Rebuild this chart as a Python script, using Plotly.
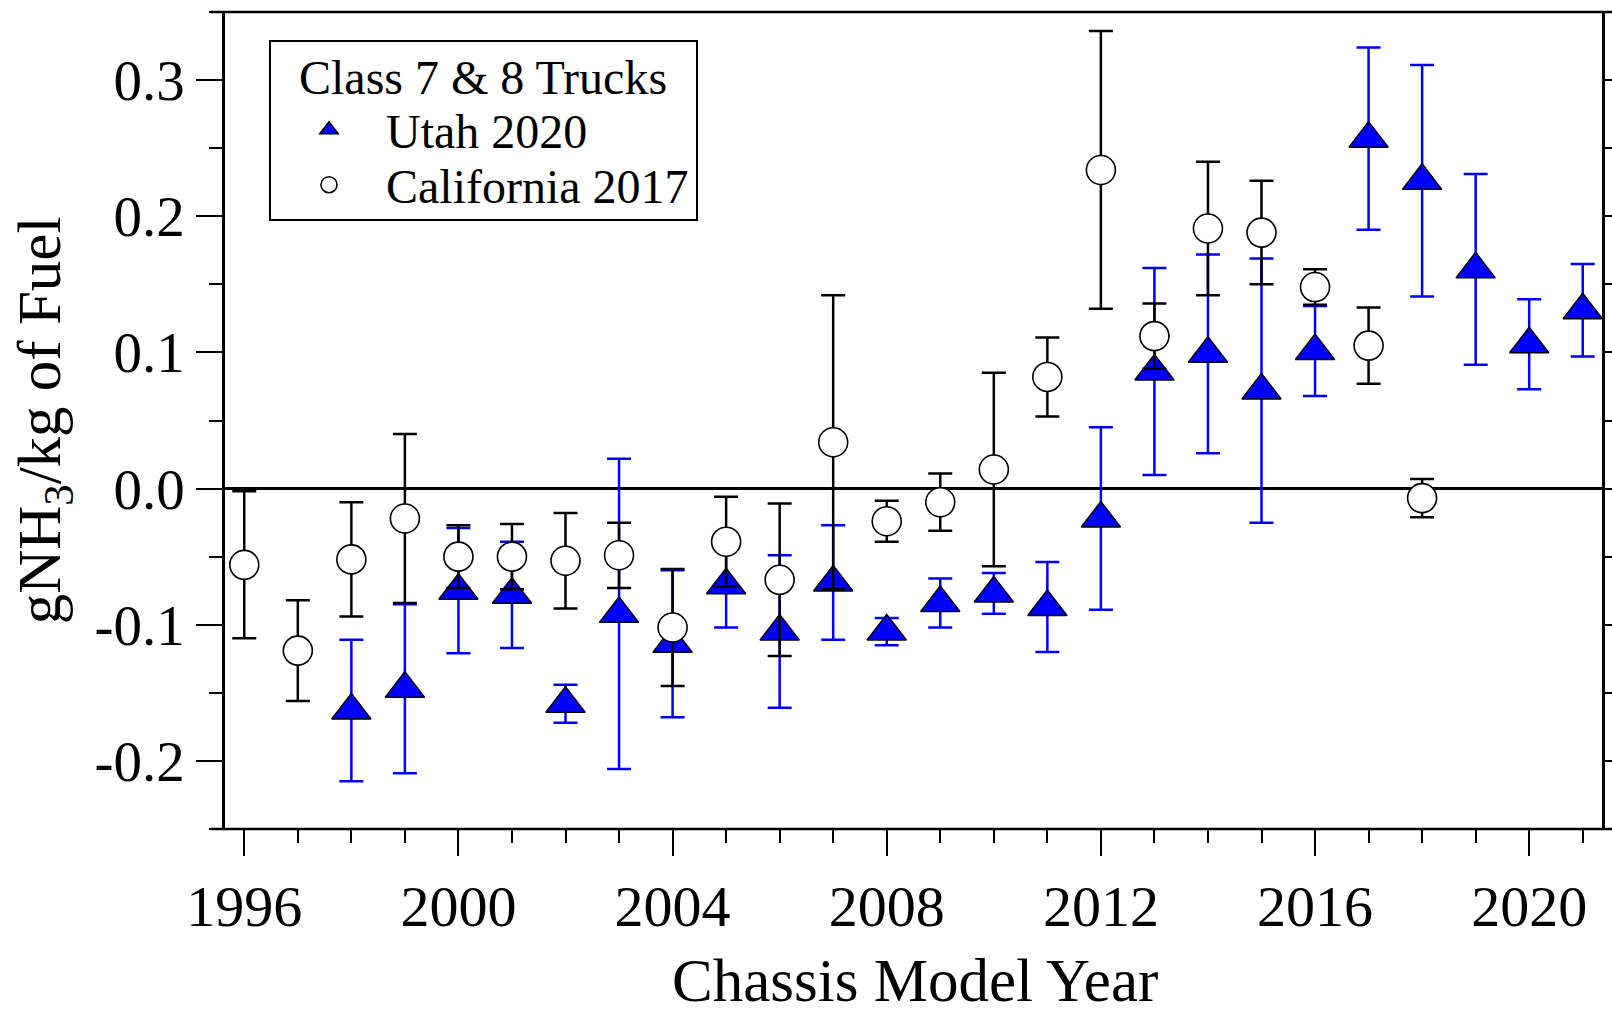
import plotly.graph_objects as go

# ---------------- data ----------------
utah_years = [1998, 1999, 2000, 2001, 2002, 2003, 2004, 2005, 2006, 2007, 2008, 2009,
              2010, 2011, 2012, 2013, 2014, 2015, 2016, 2017, 2018, 2019, 2020, 2021]
utah_vals = [-0.163, -0.147, -0.075, -0.078, -0.158, -0.092, -0.114, -0.071, -0.105, -0.069,
             -0.105, -0.084, -0.077, -0.087, -0.022, 0.086, 0.099, 0.072, 0.101, 0.257,
             0.226, 0.161, 0.106, 0.131]
utah_err = [0.052, 0.062, 0.046, 0.039, 0.014, 0.114, 0.054, 0.031, 0.056, 0.042,
            0.010, 0.018, 0.015, 0.033, 0.067, 0.076, 0.073, 0.097, 0.033, 0.067,
            0.085, 0.070, 0.033, 0.034]

ca_years = [1996, 1997, 1998, 1999, 2000, 2001, 2002, 2003, 2004, 2005, 2006, 2007,
            2008, 2009, 2010, 2011, 2012, 2013, 2014, 2015, 2016, 2017, 2018]
ca_vals = [-0.056, -0.119, -0.052, -0.022, -0.050, -0.050, -0.053, -0.049, -0.102, -0.039,
           -0.067, 0.034, -0.024, -0.010, 0.014, 0.082, 0.234, 0.112, 0.191, 0.188,
           0.148, 0.105, -0.007]
ca_err = [0.054, 0.037, 0.042, 0.062, 0.023, 0.024, 0.035, 0.024, 0.043, 0.033,
          0.056, 0.108, 0.015, 0.021, 0.071, 0.029, 0.102, 0.024, 0.049, 0.038,
          0.013, 0.028, 0.014]

x_tickvals = [1996, 2000, 2004, 2008, 2012, 2016, 2020]
x_ticktext = ["1996", "2000", "2004", "2008", "2012", "2016", "2020"]
y_tickvals = [-0.2, -0.1, 0.0, 0.1, 0.2, 0.3]
y_ticktext = ["-0.2", "-0.1", "0.0", "0.1", "0.2", "0.3"]
legend_title = "Class 7 & 8 Trucks"
x_title = "Chassis Model Year"
y_title = "gNH<sub>3</sub>/kg of Fuel"

FONT = "Liberation Serif, Times New Roman, serif"
BLUE = "#0000FF"

fig = go.Figure()

fig.add_trace(go.Scatter(
    x=utah_years, y=utah_vals, mode="markers", name="Utah 2020", legend="legend",
    marker=dict(symbol="triangle-up", size=34, color=BLUE,
                line=dict(color="black", width=1.5)),
    error_y=dict(type="data", array=utah_err, symmetric=True,
                 color=BLUE, thickness=2.5, width=12),
))
fig.add_trace(go.Scatter(
    x=ca_years, y=ca_vals, mode="markers", name="California 2017", legend="legend2",
    marker=dict(symbol="circle", size=29, color="white",
                line=dict(color="black", width=1.6)),
    error_y=dict(type="data", array=ca_err, symmetric=True,
                 color="black", thickness=2.5, width=12),
))

W, H = 1612, 1018
ML, MR, MT, MB = 225, 10, 12, 189
pw = W - ML - MR
ph = H - MT - MB


def px(xp):
    return (xp - ML) / pw


def py(yp):
    return (H - MB - yp) / ph


legend_common = dict(
    xanchor="left", yanchor="middle",
    bordercolor="black", borderwidth=0, bgcolor="rgba(0,0,0,0)",
    font=dict(family=FONT, size=48, color="black"),
    itemwidth=104,
)

fig.update_layout(
    width=W, height=H,
    margin=dict(l=ML, r=MR, t=MT, b=MB, pad=0, autoexpand=False),
    paper_bgcolor="white", plot_bgcolor="white",
    font=dict(family=FONT, color="black", size=48),
    showlegend=True,
    legend=dict(x=px(272), y=py(130), **legend_common),
    legend2=dict(x=px(272), y=py(185), **legend_common),
    xaxis=dict(
        range=[1995.64, 2021.36], automargin=False,
        tickmode="array", tickvals=x_tickvals, ticktext=x_ticktext,
        ticks="outside", ticklen=26, tickwidth=2, tickcolor="black",
        minor=dict(tickmode="linear", tick0=1996, dtick=1, ticks="outside",
                   ticklen=13, tickwidth=2, tickcolor="black", showgrid=False),
        showgrid=False, zeroline=False, showline=False,
        tickfont=dict(family=FONT, size=58, color="black"),
    ),
    yaxis=dict(
        range=[-0.25, 0.35], automargin=False,
        tickmode="array", tickvals=y_tickvals, ticktext=y_ticktext,
        ticks="outside", ticklen=26, tickwidth=2, tickcolor="black",
        minor=dict(tickmode="linear", tick0=0, dtick=0.05, ticks="outside",
                   ticklen=13, tickwidth=2, tickcolor="black", showgrid=False),
        showgrid=False,
        zeroline=True, zerolinecolor="black", zerolinewidth=2.5,
        showline=True, linecolor="black", linewidth=2.5, mirror="allticks",
        tickfont=dict(family=FONT, size=57, color="black"),
        title=dict(text=y_title,
                   font=dict(family=FONT, size=61, color="black"), standoff=15),
    ),
    shapes=[
        dict(type="line", xref="paper", yref="paper", x0=px(211), x1=px(W), y0=0, y1=0,
             line=dict(color="black", width=2.5), layer="above"),
        dict(type="line", xref="paper", yref="paper", x0=px(211), x1=px(W), y0=1, y1=1,
             line=dict(color="black", width=2.5), layer="above"),
        dict(type="rect", xref="paper", yref="paper", x0=px(270), x1=px(697),
             y0=py(220), y1=py(41), line=dict(color="black", width=2),
             fillcolor="white", layer="above"),
    ],
    annotations=[
        dict(text=legend_title, xref="paper", yref="paper", x=px(483), y=py(77),
             xanchor="center", yanchor="middle", showarrow=False,
             font=dict(family=FONT, size=48, color="black")),
        dict(text=x_title, xref="paper", yref="paper", x=px(915), y=py(981),
             xanchor="center", yanchor="middle", showarrow=False,
             font=dict(family=FONT, size=61, color="black")),
    ],
)

fig.write_html("out.html", config={"displayModeBar": False},
               post_script="document.body.style.margin='0';")
